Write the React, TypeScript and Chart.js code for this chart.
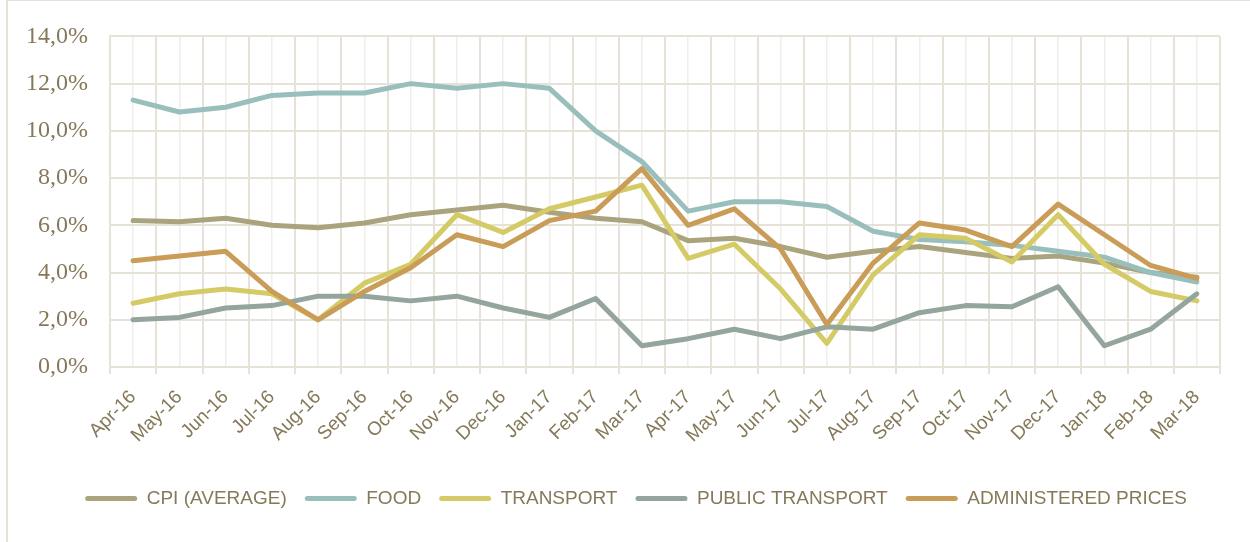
import React, { useEffect, useRef } from "react";
import { Chart, registerables } from "chart.js";

Chart.register(...registerables);

const months: string[] = [
  "Apr-16", "May-16", "Jun-16", "Jul-16", "Aug-16", "Sep-16", "Oct-16", "Nov-16",
  "Dec-16", "Jan-17", "Feb-17", "Mar-17", "Apr-17", "May-17", "Jun-17", "Jul-17",
  "Aug-17", "Sep-17", "Oct-17", "Nov-17", "Dec-17", "Jan-18", "Feb-18", "Mar-18",
];

const cpiAverage: number[] = [
  6.2, 6.15, 6.3, 6.0, 5.9, 6.1, 6.45, 6.65, 6.85, 6.55, 6.3, 6.15,
  5.35, 5.45, 5.1, 4.65, 4.9, 5.1, 4.85, 4.6, 4.7, 4.4, 4.0, 3.8,
];

const food: number[] = [
  11.3, 10.8, 11.0, 11.5, 11.6, 11.6, 12.0, 11.8, 12.0, 11.8, 10.0, 8.7,
  6.6, 7.0, 7.0, 6.8, 5.75, 5.4, 5.3, 5.15, 4.9, 4.65, 4.0, 3.6,
];

const transport: number[] = [
  2.7, 3.1, 3.3, 3.1, 2.0, 3.55, 4.35, 6.45, 5.7, 6.7, 7.2, 7.7,
  4.6, 5.2, 3.3, 1.0, 3.9, 5.6, 5.45, 4.45, 6.45, 4.35, 3.2, 2.8,
];

const publicTransport: number[] = [
  2.0, 2.1, 2.5, 2.6, 3.0, 3.0, 2.8, 3.0, 2.5, 2.1, 2.9, 0.9,
  1.2, 1.6, 1.2, 1.7, 1.6, 2.3, 2.6, 2.55, 3.4, 0.9, 1.6, 3.1,
];

const administeredPrices: number[] = [
  4.5, 4.7, 4.9, 3.2, 2.0, 3.2, 4.2, 5.6, 5.1, 6.2, 6.6, 8.4,
  6.0, 6.7, 5.0, 1.8, 4.4, 6.1, 5.8, 5.1, 6.9, 5.6, 4.3, 3.75,
];

const seriesNames: string[] = [
  "CPI (AVERAGE)", "FOOD", "TRANSPORT", "PUBLIC TRANSPORT", "ADMINISTERED PRICES",
];
const seriesColors: string[] = ["#a9a47e", "#99bfbd", "#d4cb66", "#93a59c", "#c99c58"];

const yMin = 0;
const yMax = 14;
const yStep = 2;

const TEXT = "#857959";
const GRID_MAIN = "#e6e2d8";
const GRID_MINOR = "#f0eee8";

export default function App() {
  const canvasRef = useRef<HTMLCanvasElement | null>(null);

  useEffect(() => {
    const canvas = canvasRef.current;
    if (!canvas) return;
    const values = [cpiAverage, food, transport, publicTransport, administeredPrices];
    const chart = new Chart(canvas, {
      type: "line",
      data: {
        labels: months,
        datasets: values.map((data, i) => ({
          label: seriesNames[i],
          data,
          borderColor: seriesColors[i],
          backgroundColor: seriesColors[i],
          borderWidth: 5,
          pointRadius: 0,
          pointHoverRadius: 0,
          tension: 0,
          fill: false,
          borderJoinStyle: "round" as const,
          borderCapStyle: "round" as const,
          order: values.length - i,
          yAxisID: "y",
        })),
      },
      options: {
        animation: false,
        responsive: false,
        maintainAspectRatio: false,
        layout: { padding: { left: 22, right: 0, top: 35, bottom: 24 } },
        plugins: {
          tooltip: { enabled: false },
          legend: {
            position: "bottom",
            labels: {
              color: TEXT,
              font: { family: "'Liberation Sans', Arial, sans-serif", size: 19 },
              boxWidth: 52,
              boxHeight: 5,
              padding: 18,
              useBorderRadius: true,
              borderRadius: 2.5,
              sort: (a: any, b: any) => a.datasetIndex - b.datasetIndex,
              generateLabels: (c: any) =>
                Chart.defaults.plugins.legend.labels.generateLabels(c).map((item: any) => ({
                  ...item,
                  fillStyle: item.strokeStyle,
                  lineWidth: 0,
                  borderRadius: 2.5,
                })),
            },
          },
        },
        scales: {
          x: {
            type: "category",
            position: "bottom",
            offset: true,
            grid: {
              offset: true,
              color: GRID_MAIN,
              lineWidth: 2,
              tickLength: 7,
              drawTicks: true,
            },
            border: { color: GRID_MAIN, width: 2 },
            ticks: {
              color: TEXT,
              font: { family: "'Liberation Sans', Arial, sans-serif", size: 19 },
              minRotation: 45,
              maxRotation: 45,
              autoSkip: false,
              padding: 12,
              labelOffset: 0,
            },
            afterFit: (scale: any) => {
              scale.height = 104;
            },
          },
          x2: {
            type: "category",
            position: "top",
            offset: true,
            grid: {
              offset: false,
              color: GRID_MINOR,
              lineWidth: 1.5,
              drawTicks: false,
            },
            border: { display: false },
            ticks: { display: false },
            afterFit: (scale: any) => {
              scale.height = 0;
            },
          },
          y: {
            position: "left",
            min: yMin,
            max: yMax,
            grid: { color: GRID_MAIN, lineWidth: 2, drawTicks: false },
            border: { color: GRID_MAIN, width: 2 },
            ticks: {
              stepSize: yStep,
              color: TEXT,
              padding: 22,
              font: { family: "'Liberation Serif', 'Times New Roman', serif", size: 24 },
              callback: (v: any) => Number(v).toFixed(1).replace(".", ",") + "%",
            },
            afterFit: (scale: any) => {
              scale.width = 88;
            },
          },
          yRight: {
            position: "right",
            min: yMin,
            max: yMax,
            grid: { display: false, drawTicks: false },
            border: { display: false },
            ticks: { display: false },
            afterFit: (scale: any) => {
              scale.width = 30;
            },
          },
        },
      },
    });
    return () => chart.destroy();
  }, []);

  return (
    <div
      style={{
        position: "absolute",
        left: 0,
        top: 0,
        width: 1250,
        height: 542,
        overflow: "hidden",
        background: "#ffffff",
      }}
    >
      <div
        style={{
          position: "absolute",
          left: 6,
          top: -1,
          width: 1300,
          height: 600,
          border: "2px solid #e6e2d8",
          boxSizing: "border-box",
        }}
      />
      <canvas
        ref={canvasRef}
        width={1250}
        height={542}
        style={{ position: "absolute", left: 0, top: 0, width: 1250, height: 542 }}
      />
    </div>
  );
}
